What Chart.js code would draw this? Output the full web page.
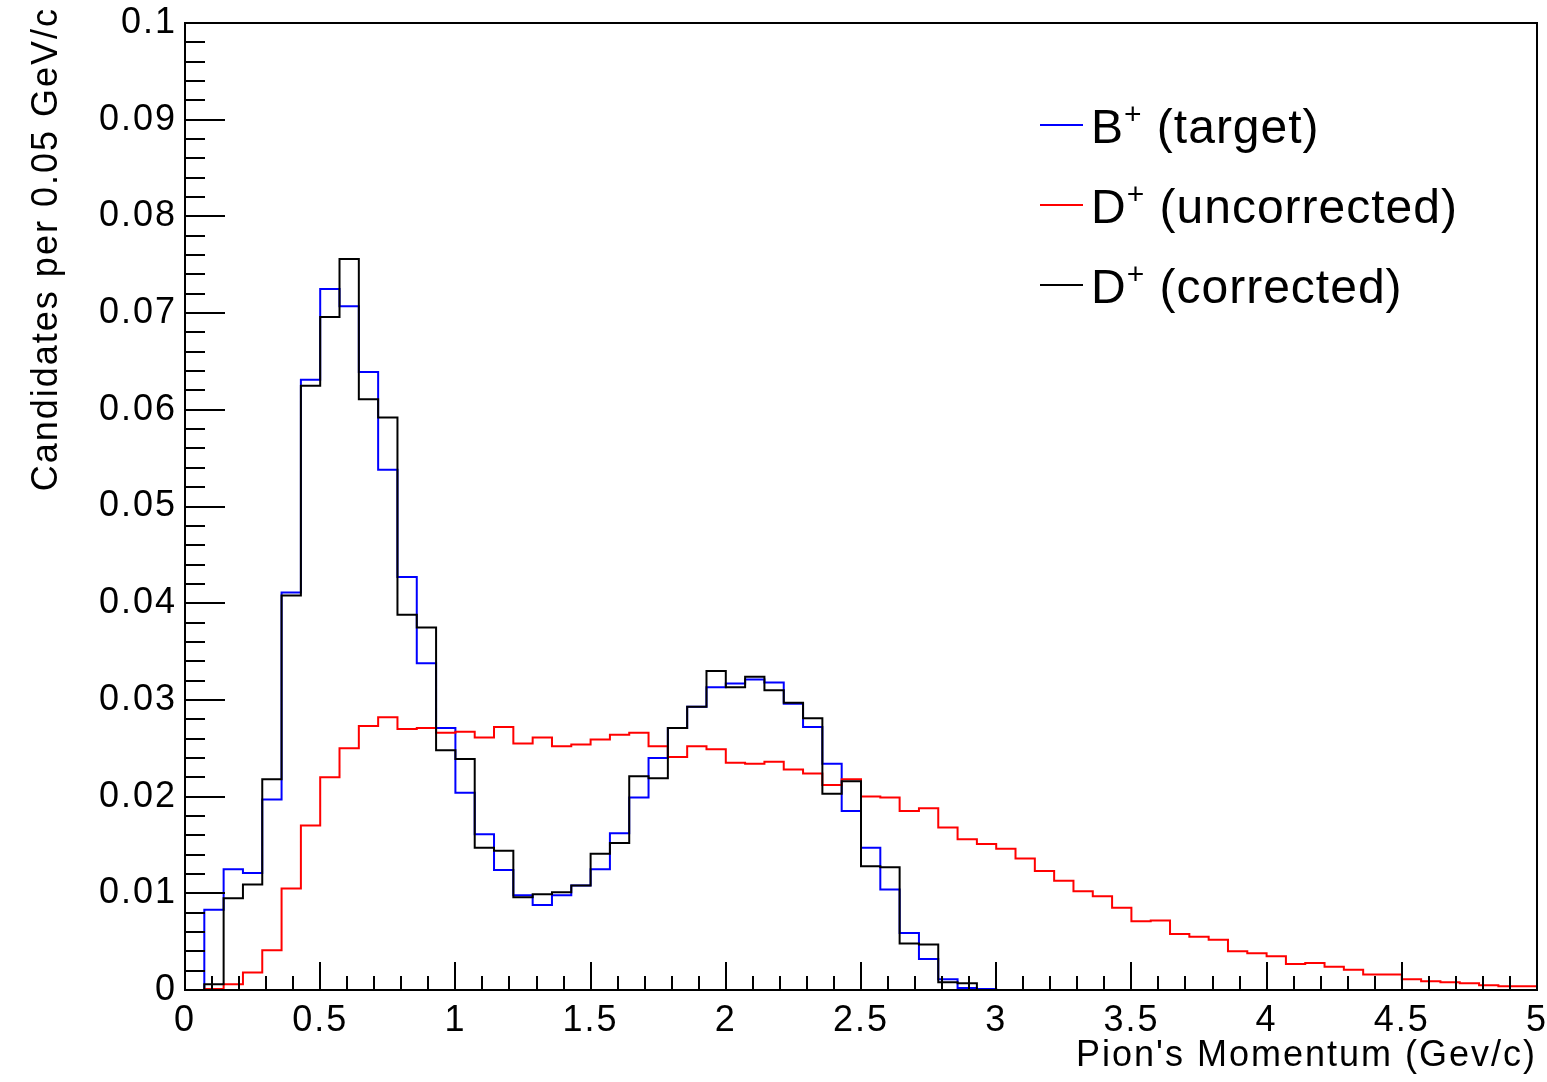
<!DOCTYPE html>
<html>
<head>
<meta charset="utf-8">
<script src="https://cdn.jsdelivr.net/npm/chart.js@4.4.1/dist/chart.umd.min.js"></script>
<style>
  html, body { margin: 0; padding: 0; background: #ffffff; }
  #wrap { width: 1547px; height: 1082px; position: relative; }
</style>
</head>
<body>
<div id="wrap"><canvas id="c"></canvas></div>
<script>
// ---------------- data ----------------
const X_MIN = 0;
const X_MAX = 5;
const N_BINS = 70;
const binEdges = Array.from({ length: N_BINS + 1 }, (_, i) => X_MIN + i * (X_MAX - X_MIN) / N_BINS);

const seriesLabels = ['B⁺ (target)', 'D⁺ (uncorrected)', 'D⁺ (corrected)'];

const bTarget = [
  0, 0.0083, 0.0125, 0.0121, 0.0197, 0.0411, 0.0631, 0.0725, 0.0707, 0.0639,
  0.0538, 0.0427, 0.0338, 0.0271, 0.0204, 0.0161, 0.0124, 0.0098, 0.0088, 0.0098,
  0.0108, 0.0125, 0.0162, 0.0199, 0.0240, 0.0271, 0.0293, 0.0313, 0.0317, 0.0321,
  0.0318, 0.0296, 0.0272, 0.0234, 0.0185, 0.0147, 0.0104, 0.0059, 0.0032, 0.0011,
  0.0002, 0.0001, 0, 0, 0, 0, 0, 0, 0, 0,
  0, 0, 0, 0, 0, 0, 0, 0, 0, 0,
  0, 0, 0, 0, 0, 0, 0, 0, 0, 0
];

const dUncorrected = [
  0, 0.0001, 0.0006, 0.0018, 0.0041, 0.0105, 0.0170, 0.0220, 0.0250, 0.0273,
  0.0282, 0.0270, 0.0271, 0.0266, 0.0267, 0.0261, 0.0272, 0.0255, 0.0261, 0.0252,
  0.0254, 0.0259, 0.0264, 0.0266, 0.0252, 0.0241, 0.0252, 0.0249, 0.0235, 0.0234,
  0.0236, 0.0228, 0.0224, 0.0212, 0.0218, 0.0200, 0.0199, 0.0185, 0.0188, 0.0168,
  0.0156, 0.0151, 0.0146, 0.0136, 0.0123, 0.0113, 0.0102, 0.0097, 0.0085, 0.0071,
  0.0072, 0.0058, 0.0055, 0.0052, 0.0040, 0.0038, 0.0035, 0.0027, 0.0028, 0.0024,
  0.0021, 0.0016, 0.0016, 0.0011, 0.0009, 0.0008, 0.0007, 0.0005, 0.0004, 0.0004
];

const dCorrected = [
  0, 0.0006, 0.0095, 0.0109, 0.0218, 0.0408, 0.0625, 0.0696, 0.0756, 0.0611,
  0.0592, 0.0388, 0.0375, 0.0248, 0.0239, 0.0147, 0.0144, 0.0096, 0.0099, 0.0101,
  0.0108, 0.0141, 0.0152, 0.0221, 0.0219, 0.0271, 0.0293, 0.0330, 0.0313, 0.0324,
  0.0310, 0.0297, 0.0281, 0.0203, 0.0216, 0.0128, 0.0127, 0.0048, 0.0047, 0.0008,
  0.0007, 0, 0, 0, 0, 0, 0, 0, 0, 0,
  0, 0, 0, 0, 0, 0, 0, 0, 0, 0,
  0, 0, 0, 0, 0, 0, 0, 0, 0, 0
];

const xTickLabels = ['0', '0.5', '1', '1.5', '2', '2.5', '3', '3.5', '4', '4.5', '5'];
const yTickLabels = ['0', '0.01', '0.02', '0.03', '0.04', '0.05', '0.06', '0.07', '0.08', '0.09', '0.1'];
const xAxisTitle = "Pion's Momentum (Gev/c)";
const yAxisTitle = 'Candidates per 0.05 GeV/c';

// ---------------- helpers ----------------
const FONT = '"Liberation Sans", Arial, Helvetica, sans-serif';

// histogram outline: each value holds from its low edge to the next edge
function toSteps(values) {
  const pts = values.map((v, i) => ({ x: binEdges[i], y: v }));
  pts.push({ x: binEdges[N_BINS], y: values[N_BINS - 1] });
  return pts;
}

// widen text a little (Helvetica-like spacing) while the axes are drawn;
// the y-axis title extends slightly above the frame, as in ROOT
const textSpacing = {
  id: 'textSpacing',
  beforeDraw(chart) {
    chart.ctx.letterSpacing = '2px';
    const s = chart.scales.y;
    if (s && !s._titleShifted) {
      const orig = s.drawTitle.bind(s);
      s.drawTitle = function () {
        this.ctx.save();
        this.ctx.translate(0, -16);
        orig();
        this.ctx.restore();
      };
      s._titleShifted = true;
    }
  },
  beforeDatasetsDraw(chart) { chart.ctx.letterSpacing = '0px'; }
};

// ROOT-like frame with inward ticks
const rootFrame = {
  id: 'rootFrame',
  afterDatasetsDraw(chart) {
    const { ctx, chartArea: a, scales } = chart;
    const x = scales.x, y = scales.y;
    ctx.save();
    ctx.strokeStyle = '#000';
    ctx.lineWidth = 2;
    ctx.beginPath();
    for (let k = 0; k <= 50; k++) {
      const px = Math.round(x.getPixelForValue(k * 0.1));
      const len = (k % 5 === 0) ? 28 : 14;
      ctx.moveTo(px, a.bottom);
      ctx.lineTo(px, a.bottom - len);
    }
    for (let k = 0; k <= 50; k++) {
      const py = Math.round(y.getPixelForValue(k * 0.002));
      const len = (k % 5 === 0) ? 40 : 20;
      ctx.moveTo(a.left, py);
      ctx.lineTo(a.left + len, py);
    }
    ctx.stroke();
    ctx.strokeRect(a.left, a.top, a.right - a.left, a.bottom - a.top);
    ctx.restore();
  }
};

// ROOT-like legend (TLegend) with superscripts
const rootLegend = {
  id: 'rootLegend',
  afterDraw(chart, args, o) {
    const ctx = chart.ctx;
    ctx.save();
    ctx.letterSpacing = o.spacing;
    chart.data.datasets.forEach((ds, i) => {
      const yMid = o.y0 + i * o.dy;
      ctx.strokeStyle = ds.borderColor;
      ctx.lineWidth = 2;
      ctx.beginPath();
      ctx.moveTo(o.x0, yMid);
      ctx.lineTo(o.x0 + o.lineLen, yMid);
      ctx.stroke();
      let tx = o.x0 + o.lineLen + o.gap;
      const base = yMid + o.baseOffset;
      const parts = ds.label.split('⁺');
      ctx.fillStyle = '#000';
      ctx.textAlign = 'left';
      ctx.textBaseline = 'alphabetic';
      ctx.font = o.size + 'px ' + FONT;
      ctx.fillText(parts[0], tx, base);
      tx += ctx.measureText(parts[0]).width;
      if (parts.length > 1) {
        ctx.font = o.supSize + 'px ' + FONT;
        ctx.fillText('+', tx, base - o.supRaise);
        tx += ctx.measureText('+').width;
        ctx.font = o.size + 'px ' + FONT;
        ctx.fillText(parts[1], tx, base);
      }
    });
    ctx.restore();
  }
};

const colors = ['#0000ff', '#ff0000', '#000000'];
const seriesValues = [bTarget, dUncorrected, dCorrected];
const drawOrder = [3, 2, 1];

const datasets = seriesValues.map((vals, i) => ({
  label: seriesLabels[i],
  data: toSteps(vals),
  borderColor: colors[i],
  backgroundColor: colors[i],
  borderWidth: 2,
  pointRadius: 0,
  pointHoverRadius: 0,
  stepped: 'before',
  fill: false,
  order: drawOrder[i]
}));

new Chart(document.getElementById('c'), {
  type: 'line',
  data: { datasets },
  plugins: [textSpacing, rootFrame, rootLegend],
  options: {
    responsive: true,
    maintainAspectRatio: false,
    animation: false,
    devicePixelRatio: 1,
    layout: { padding: { top: 23, right: 10, left: 0, bottom: 0 } },
    plugins: {
      legend: { display: false },
      tooltip: { enabled: false },
      rootLegend: {
        x0: 1040, lineLen: 43, gap: 8, y0: 125, dy: 80, baseOffset: 18,
        size: 48, supSize: 30, supRaise: 19, spacing: '1px'
      }
    },
    scales: {
      x: {
        type: 'linear',
        min: X_MIN,
        max: X_MAX,
        grid: { display: false, drawTicks: false },
        border: { display: false },
        ticks: {
          stepSize: 0.5,
          autoSkip: false,
          maxRotation: 0,
          padding: 9,
          color: '#000',
          font: { family: FONT, size: 36 },
          callback: (v, idx) => xTickLabels[idx]
        },
        title: {
          display: true,
          text: xAxisTitle,
          align: 'end',
          color: '#000',
          font: { family: FONT, size: 36 },
          padding: { top: 0, bottom: 4 }
        },
        afterFit: (s) => { s.height = 92; s.paddingLeft = 0; s.paddingRight = 0; }
      },
      y: {
        type: 'linear',
        min: 0,
        max: 0.1,
        grid: { display: false, drawTicks: false },
        border: { display: false },
        ticks: {
          stepSize: 0.01,
          autoSkip: false,
          padding: 8,
          color: '#000',
          font: { family: FONT, size: 36 },
          callback: (v, idx) => yTickLabels[idx]
        },
        title: {
          display: true,
          text: yAxisTitle,
          align: 'end',
          color: '#000',
          font: { family: FONT, size: 36 },
          padding: { top: 25, bottom: 0 }
        },
        afterFit: (s) => { s.width = 185; s.paddingTop = 0; s.paddingBottom = 0; }
      }
    }
  }
});
</script>
</body>
</html>
